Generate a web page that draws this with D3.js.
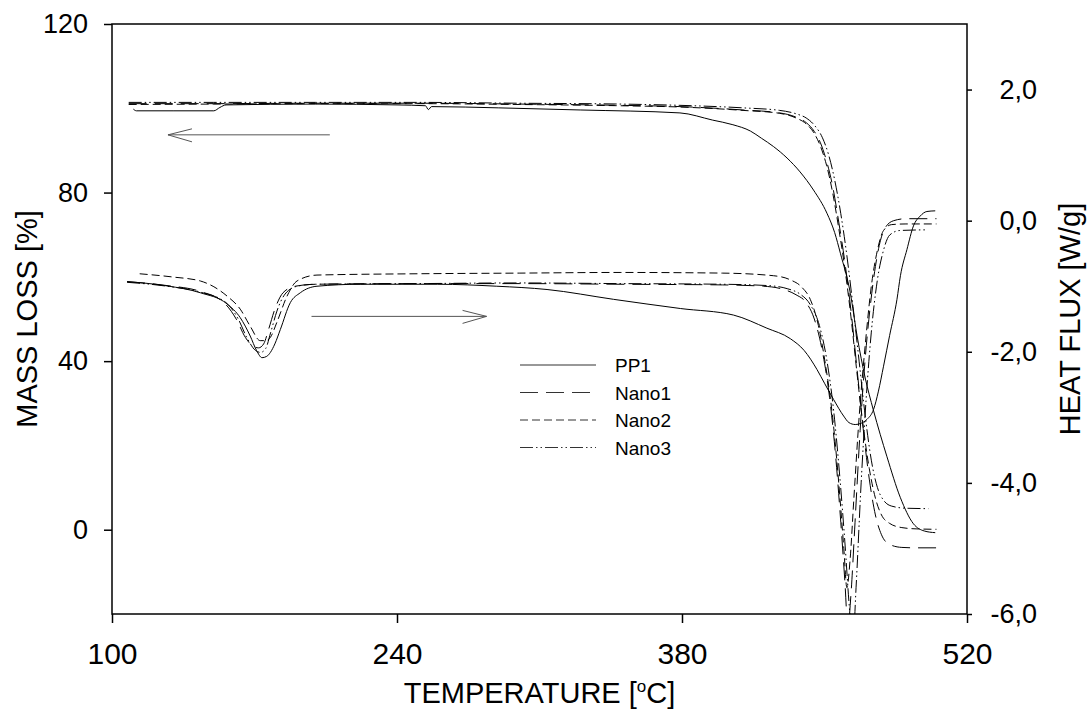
<!DOCTYPE html>
<html>
<head>
<meta charset="utf-8">
<script src="https://cdn.jsdelivr.net/npm/d3@7"></script>
<style>
  body { margin: 0; background: #fff; }
  svg text { font-family: "Liberation Sans", Arial, sans-serif; fill: #000; }
</style>
</head>
<body>
<div id="chart"></div>
<script>
// Series names (legend order)
const seriesNames = ["PP1", "Nano1", "Nano2", "Nano3"];

// Tick values for the three axes
const xTicks = [100, 240, 380, 520];
const leftTicks = [0, 40, 80, 120];
const rightTicks = [-6, -4, -2, 0, 2];

// Mass loss curves (TG), [temperature, mass %]
const tgPP1 = [[110.5,99.8],[112,99.4],[130,99.4],[150,99.4],[153,100.2],[156,100.8],[200,101.0],[240,100.8],[254,100.6],[255.4,99.7],[257,100.4],[290,100.1],[330,99.6],[379,98.9],[395,97.2],[405,96.1],[413.6,94.6],[419,92.9],[425,90.9],[431.6,88.2],[438,84.9],[444.6,80.6],[451.2,75.1],[455,70.5],[457.8,65.6],[462.7,56.1],[466,46],[470,36],[474,28.4],[480.7,17.3],[487.2,7.7],[493.7,1.4],[499,-0.3],[504.4,-0.7]];
const tgNano1 = [[108.2,101.1],[150,101.1],[200,101.2],[250,101.2],[300,101.0],[350,100.7],[379,100.4],[410,99.6],[428,98.9],[436,97.9],[441,96.6],[445,94.5],[448,91.8],[451,87.5],[454,81.5],[457,73.0],[460,63.5],[463,52.0],[466,38.0],[469,24.0],[472,12.0],[475,3.5],[478,-1.2],[482,-3.5],[488,-4.2],[495,-4.3],[505,-4.3]];
const tgNano2 = [[108.2,100.9],[150,101.0],[200,101.1],[250,101.1],[300,100.9],[350,100.6],[379,100.3],[410,99.5],[428,98.8],[436,97.7],[441,96.3],[445,94.0],[448,91.0],[451,86.5],[454,80.0],[457,71.5],[460,62.0],[463,50.5],[466,37.0],[469,24.5],[472,14.5],[475,7.5],[478,3.5],[482,1.5],[488,0.5],[495,0.2],[505,0.1]];
const tgNano3 = [[108.2,101.4],[150,101.4],[200,101.4],[250,101.4],[300,101.2],[350,101.0],[379,100.7],[410,100.1],[428,99.5],[436,98.7],[441,97.7],[445,96.0],[449,93.0],[452,89.0],[455,83.0],[458,75.0],[461,65.0],[464,53.0],[467,40.0],[470,27.0],[473,16.5],[476,10.0],[479,7.0],[483,5.6],[490,5.1],[501,5.0]];

// Heat flux curves (DSC), [temperature, W/g]
const dscPP1 = [[107.4,-0.93],[127,-0.995],[143.4,-1.10],[156.5,-1.27],[163,-1.48],[167.9,-1.76],[171,-1.98],[173.7,-2.09],[176,-2.07],[177.8,-2.01],[180,-1.88],[182.7,-1.66],[187.6,-1.25],[192.5,-1.10],[200.7,-1.0],[222,-0.97],[260,-0.97],[289,-1.0],[313.7,-1.05],[346.4,-1.2],[379.2,-1.34],[405.3,-1.44],[421.7,-1.64],[433.2,-1.80],[440,-1.98],[446.3,-2.27],[450,-2.48],[454.5,-2.73],[459.4,-2.98],[462,-3.08],[465.1,-3.11],[468,-3.09],[470.9,-3.03],[474.1,-2.88],[476.5,-2.6],[479,-2.22],[482,-1.75],[485.6,-1.2],[487.3,-0.84],[490.5,-0.44],[493.7,-0.08],[497,0.07],[500.3,0.14],[504.4,0.15]];
const dscNano1 = [[107.4,-0.93],[127,-0.99],[143.4,-1.08],[155,-1.25],[161,-1.5],[165.5,-1.78],[169.5,-1.92],[172,-1.94],[174.5,-1.88],[177,-1.65],[180,-1.35],[184,-1.1],[190,-1.0],[200,-0.97],[250,-0.96],[300,-0.96],[350,-0.97],[400,-0.98],[420,-1.0],[430,-1.05],[436,-1.13],[441,-1.25],[445,-1.5],[449,-2.0],[452.5,-2.7],[455.5,-3.6],[458,-4.6],[460,-5.5],[461.5,-6.2],[463,-5.7],[465,-4.6],[467.5,-3.2],[470,-2.1],[472.5,-1.3],[475,-0.7],[477.5,-0.3],[480,-0.1],[484,0.0],[490,0.03],[505,0.03]];
const dscNano2 = [[113.6,-0.81],[130,-0.86],[143.4,-0.92],[156.5,-1.15],[163,-1.35],[167.9,-1.61],[172.8,-1.83],[175.5,-1.83],[177.8,-1.78],[181,-1.55],[186,-1.15],[190.9,-0.92],[200.7,-0.83],[250,-0.81],[300,-0.80],[350,-0.79],[400,-0.80],[425,-0.84],[433,-0.9],[439,-1.02],[443,-1.2],[447,-1.6],[450.5,-2.2],[454,-3.0],[457,-4.0],[459.5,-5.0],[461,-5.6],[462.5,-5.2],[464.5,-4.2],[467,-3.0],[470,-1.9],[473,-1.0],[476,-0.45],[479,-0.15],[483,-0.06],[490,-0.05],[505,-0.05]];
const dscNano3 = [[107.4,-0.94],[127,-1.0],[143.4,-1.09],[156,-1.25],[162,-1.5],[166.5,-1.8],[170.5,-1.98],[173,-2.01],[175.5,-1.95],[178,-1.7],[181,-1.38],[185,-1.12],[191,-1.0],[200,-0.97],[250,-0.96],[300,-0.95],[350,-0.96],[400,-0.97],[422,-0.99],[432,-1.04],[438,-1.12],[443,-1.28],[447.5,-1.6],[451,-2.1],[454.5,-2.9],[457.5,-3.9],[460,-4.9],[462.5,-6.0],[464,-6.4],[465.5,-5.6],[468,-4.0],[470.5,-2.7],[473,-1.7],[476,-0.9],[479,-0.45],[482,-0.22],[487,-0.15],[500,-0.14]];

// Direction arrows: [tail temperature, head temperature, value]
const arrowTG = [207, 127.5, 93.7];
const arrowDSC = [198, 284, -1.46];

// Dash pattern for each series
const dashes = { PP1: null, Nano1: "18,8", Nano2: "8,4", Nano3: "13,3,1.5,3,1.5,3" };

function drawChart() {
    const width = 1087, height = 713;
    const margin = { top: 24, right: 120, bottom: 99, left: 112 };
    const innerWidth = width - margin.left - margin.right;
    const innerHeight = height - margin.top - margin.bottom;

    const svg = d3.select("#chart").append("svg")
        .attr("width", width)
        .attr("height", height);

    const g = svg.append("g")
        .attr("transform", `translate(${margin.left},${margin.top})`);

    // We create the scales
    const x = d3.scaleLinear().domain([100, 520]).range([0, innerWidth]);
    const yLeft = d3.scaleLinear().domain([-20, 120]).range([innerHeight, 0]);
    const yRight = d3.scaleLinear().domain([-6, 3]).range([innerHeight, 0]);

    // Clip so the deep DSC peaks stop at the frame
    g.append("clipPath").attr("id", "clip")
        .append("rect").attr("width", innerWidth).attr("height", innerHeight);

    const lineL = d3.line().x(d => x(d[0])).y(d => yLeft(d[1])).curve(d3.curveMonotoneX);
    const lineR = d3.line().x(d => x(d[0])).y(d => yRight(d[1])).curve(d3.curveMonotoneX);

    const curves = g.append("g").attr("clip-path", "url(#clip)");
    const tgData = { PP1: tgPP1, Nano1: tgNano1, Nano2: tgNano2, Nano3: tgNano3 };
    const dscData = { PP1: dscPP1, Nano1: dscNano1, Nano2: dscNano2, Nano3: dscNano3 };

    seriesNames.forEach(name => {
        curves.append("path")
            .attr("d", lineL(tgData[name]))
            .attr("fill", "none").attr("stroke", "#000").attr("stroke-width", 1)
            .attr("stroke-dasharray", dashes[name]);
        curves.append("path")
            .attr("d", lineR(dscData[name]))
            .attr("fill", "none").attr("stroke", "#000").attr("stroke-width", 1)
            .attr("stroke-dasharray", dashes[name]);
    });

    // We draw the two arrows
    function arrow(x1, x2, yy) {
        const dir = x2 > x1 ? -1 : 1;
        const a = g.append("g").attr("stroke", "#555").attr("stroke-width", 1).attr("fill", "none");
        a.append("line").attr("x1", x1).attr("x2", x2).attr("y1", yy).attr("y2", yy);
        a.append("path").attr("d", `M${x2 + dir * 24},${yy - 6}L${x2},${yy}L${x2 + dir * 24},${yy + 7}`);
    }
    arrow(x(arrowTG[0]), x(arrowTG[1]), yLeft(arrowTG[2]));
    arrow(x(arrowDSC[0]), x(arrowDSC[1]), yRight(arrowDSC[2]));

    // We draw the frame
    g.append("rect")
        .attr("width", innerWidth).attr("height", innerHeight)
        .attr("fill", "none").attr("stroke", "#000").attr("stroke-width", 1.5);

    // Bottom axis
    const xAxis = g.append("g")
        .attr("transform", `translate(0,${innerHeight})`)
        .call(d3.axisBottom(x).tickValues(xTicks).tickSize(9).tickPadding(20));
    xAxis.select(".domain").remove();
    xAxis.selectAll("text").attr("font-size", 30).attr("font-family", "Liberation Sans, Arial, sans-serif");
    xAxis.selectAll("line").attr("stroke-width", 1.5);

    // Left axis
    const lAxis = g.append("g")
        .call(d3.axisLeft(yLeft).tickValues(leftTicks).tickSize(8).tickPadding(16));
    lAxis.select(".domain").remove();
    lAxis.selectAll("text").attr("font-size", 27).attr("font-family", "Liberation Sans, Arial, sans-serif");
    lAxis.selectAll("line").attr("stroke-width", 1.5);

    // Right axis with comma decimals
    const rAxis = g.append("g")
        .attr("transform", `translate(${innerWidth},0)`)
        .call(d3.axisRight(yRight).tickValues(rightTicks).tickSize(5)
            .tickFormat(d => d3.format(".1f")(d).replace(".", ",").replace("−", "-")));
    rAxis.select(".domain").remove();
    rAxis.selectAll("text")
        .attr("font-size", 27).attr("font-family", "Liberation Sans, Arial, sans-serif")
        .attr("text-anchor", "end").attr("x", 70);
    rAxis.selectAll("line").attr("stroke-width", 1.5);

    // Axis titles
    svg.append("text")
        .attr("x", margin.left + innerWidth / 2).attr("y", 703)
        .attr("text-anchor", "middle").attr("font-size", 29)
        .html('TEMPERATURE [<tspan font-size="17" dy="-11">o</tspan><tspan dy="11">C]</tspan>');
    svg.append("text")
        .attr("transform", "translate(37,319) rotate(-90)")
        .attr("text-anchor", "middle").attr("font-size", 29)
        .text("MASS LOSS [%]");
    svg.append("text")
        .attr("transform", "translate(1080,319) rotate(-90)")
        .attr("text-anchor", "middle").attr("font-size", 29)
        .text("HEAT FLUX [W/g]");

    // Legend
    const legend = svg.append("g");
    seriesNames.forEach((name, i) => {
        const yy = 365 + i * 27.5;
        legend.append("line")
            .attr("x1", 520).attr("x2", 596).attr("y1", yy).attr("y2", yy)
            .attr("stroke", "#333").attr("stroke-width", 1.2)
            .attr("stroke-dasharray", dashes[name]);
        legend.append("text")
            .attr("x", 615).attr("y", yy + 7)
            .attr("font-size", 19)
            .text(name);
    });
}

drawChart();
</script>
</body>
</html>
